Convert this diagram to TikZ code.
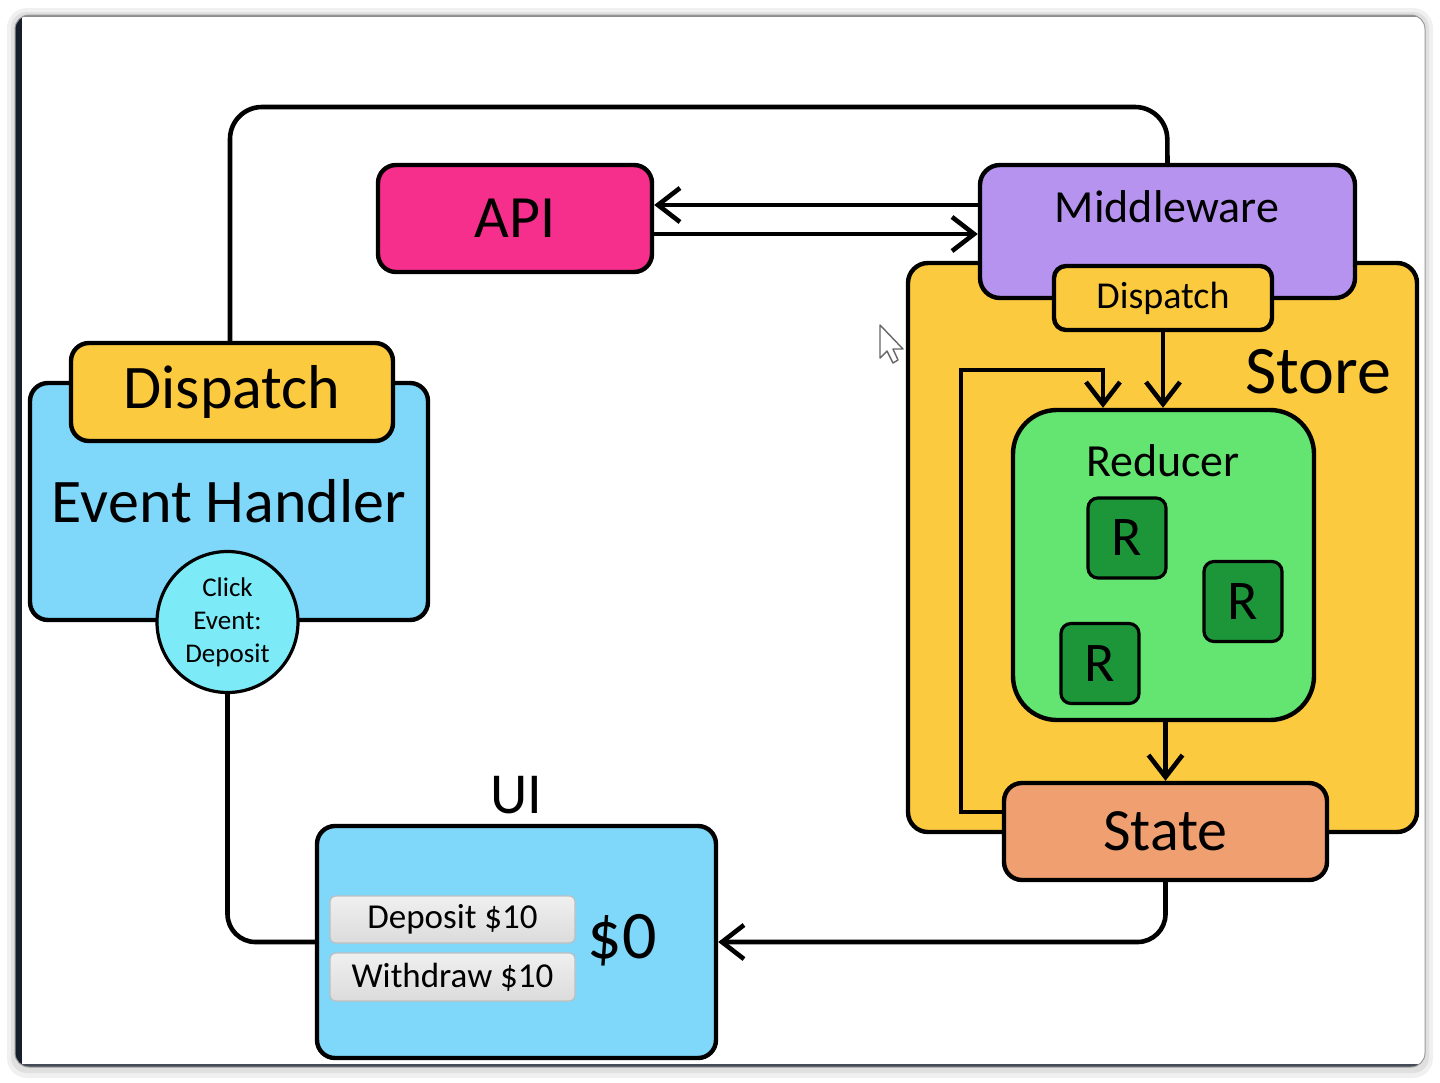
\documentclass[tikz,border=0pt]{standalone}
\usepackage{fontspec}
\setmainfont{Carlito}
\usetikzlibrary{arrows.meta}
\definecolor{apic}{RGB}{246,46,140}
\definecolor{mwc}{RGB}{181,147,238}
\definecolor{storec}{RGB}{252,202,62}
\definecolor{redc}{RGB}{100,228,112}
\definecolor{rc}{RGB}{28,150,56}
\definecolor{statec}{RGB}{240,160,112}
\definecolor{bluec}{RGB}{127,215,250}
\definecolor{circc}{RGB}{125,234,248}
\definecolor{darkbar}{RGB}{22,30,44}
\begin{document}
\begin{tikzpicture}[x=0.5pt,y=-0.5pt,
  box/.style={draw=black, line width=2.2pt, rounded corners=8pt, inner sep=0pt, text=black},
  conn/.style={line width=2.3pt, draw=black},
  arr/.style={conn, -{Straight Barb[length=11pt,width=17pt]}},
  btn/.style={draw=black!25, line width=0.6pt, rounded corners=3pt, top color=white!94!black, bottom color=black!14, inner sep=0pt, minimum width=122.5pt, font=\fontsize{17.5}{20}\selectfont},
  rbox/.style={box, line width=1.6pt, rounded corners=5pt, fill=rc, minimum width=39pt, minimum height=40pt, font=\fontsize{28}{32}\selectfont}
]
\useasboundingbox (0,0) rectangle (1440,1082);
% window frame
\fill[black!6, rounded corners=10pt] (7,8) rectangle (1433,1078);
\fill[black!12, rounded corners=8pt] (11,12) rectangle (1429,1073);
\fill[white, rounded corners=7pt] (15,15) rectangle (1425,1067);
\begin{scope}
  \clip[rounded corners=7pt] (15,15) rectangle (1425,1067);
  \fill[darkbar] (15,15) rectangle (22,1067);
  \fill[darkbar!80] (15,1064) rectangle (1425,1067);
  \fill[black!45] (15,15) rectangle (1425,17);
\end{scope}
\draw[black!40, line width=0.5pt, rounded corners=7pt] (15,15) rectangle (1425,1067);

% mouse cursor
\draw[black!60, fill=white, line width=0.7pt, line join=round]
  (880,325) -- (880,358) -- (887,351) -- (893,363) -- (898,360) -- (893,349) -- (903,349) -- cycle;

% Store
\node[box, fill=storec, rounded corners=10pt, minimum width=254.5pt, minimum height=284.5pt] (store) at (1162.5,547.5) {};
\node[font=\fontsize{34}{40}\selectfont] (storet) at (1318,372) {Store};
% Middleware
\node[box, fill=mwc, rounded corners=10pt, minimum width=187.5pt, minimum height=66.5pt] (mw) at (1167.5,231.5) {};
\node[font=\fontsize{23}{28}\selectfont] (mwt) at (1167,207) {Middleware};
% Dispatch (store)
\node[box, fill=storec, rounded corners=6pt, minimum width=109pt, minimum height=32pt, font=\fontsize{19}{23}\selectfont] (disps) at (1163,298) {Dispatch};
% Reducer
\node[box, fill=redc, rounded corners=22pt, minimum width=150.5pt, minimum height=155pt] (red) at (1163.5,565) {};
\node[font=\fontsize{23}{28}\selectfont] (redt) at (1163,461) {Reducer};
\node[rbox] (r1) at (1127,538) {R};
\node[rbox] (r2) at (1243,601.5) {R};
\node[rbox] (r3) at (1100,663.5) {R};
% State
\node[box, fill=statec, rounded corners=9pt, minimum width=161.5pt, minimum height=48.5pt, font=\fontsize{30}{36}\selectfont] (st) at (1165.5,831.5) {State};

% API
\node[box, fill=apic, rounded corners=9pt, minimum width=137pt, minimum height=53.5pt, font=\fontsize{30}{36}\selectfont] (api) at (515,218.5) {API};

% UI
\node[box, fill=bluec, rounded corners=9pt, minimum width=199.5pt, minimum height=116pt] (ui) at (516.5,942) {};
\node[font=\fontsize{29}{34}\selectfont] (uit) at (516,795) {UI};
\node[btn, minimum height=23.5pt] (dep) at (452.5,919.5) {Deposit \$10};
\node[btn, minimum height=24pt] (wd) at (452.5,977) {Withdraw \$10};
\node[font=\fontsize{34}{40}\selectfont] (bal) at (622,940) {\$0};

% Event handler
\coordinate (topr) at (1167,107);
\draw[conn, rounded corners=16pt] (230,345) |- (topr) -- (mw.north);
\node[box, fill=bluec, rounded corners=9pt, minimum width=199pt, minimum height=118.5pt, font=\fontsize{31}{37}\selectfont] (eh) at (229,501.5) {Event Handler};
\node[box, fill=storec, rounded corners=9pt, minimum width=161pt, minimum height=49pt, font=\fontsize{31}{37}\selectfont] (displ) at (232,392) {Dispatch};
\node[draw=black, line width=1.6pt, fill=circc, circle, minimum size=70.5pt, inner sep=0pt, align=center, font=\fontsize{13.5}{16.5}\selectfont] (circ) at (227.5,622) {Click\\Event:\\Deposit};

% connectors
\coordinate (ya) at (0,205);
\coordinate (yb) at (0,234);
\draw[arr] (mw.west |- ya) -- (api.east |- ya);
\draw[arr] (api.east |- yb) -- (mw.west |- yb);
\draw[arr] (disps.south) -- (disps.south |- red.north);
\coordinate (la) at (961,812);
\coordinate (lb) at (1103,370);
\draw[arr] (st.west |- la) -- (la) |- (lb) -- (lb |- red.north);
\draw[arr] (st.north |- red.south) -- (st.north);
\draw[arr, rounded corners=14pt] (st.south) |- (ui.east);
\draw[conn, rounded corners=14pt] (circ.south) |- (ui.west);
\end{tikzpicture}
\end{document}
